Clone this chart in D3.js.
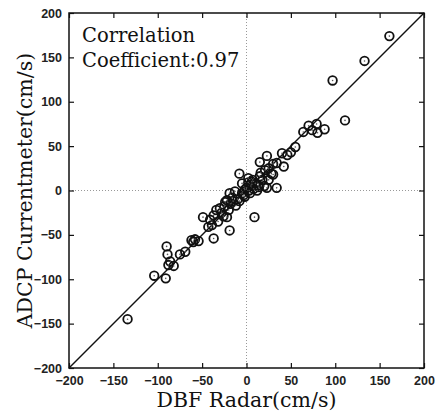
<!DOCTYPE html>
<html>
<head>
<meta charset="utf-8">
<script src="https://cdn.jsdelivr.net/npm/d3@7"></script>
<style>
  body { margin: 0; background: #fff; }
  .tick text { font-family: "Liberation Sans", Arial, sans-serif; }
</style>
</head>
<body>
<div id="chart"></div>
<script>
// data (cm/s)
var radar = [161, 133, 97, 111, 64, 70, 79, 80, 88, 74, 55, 50, 40, 46, 42, 34, 23, 15, 30, 21,
             28, 15, 25, 34, 23, 13, 6, 2, -8, -2, -19, -13, -22, 9, -19, -37, -49, -41, -43, -37,
             -34, -39, -62, -58, -54, -60, -69, -75, -82, -88, -86, -89, -90, -91, -104, -134,
             5, 8, 3, 0, 10, 12, -5, -3, -10, -15, -18, -25, -28, -30, -26, -20, -12, -8,
             18, 20, 16, 25, -22, -32, -5, 4, 30, 7, 2, 6, -2, 14, -16, -24];
var adcp  = [174, 146, 124, 79, 66, 73, 75, 65, 69, 68, 49, 43, 42, 40, 27, 31, 39, 32, 30, 23,
             19, 16, 12, 3, 3, 6, 10, 14, 19, -7, -3, -1, -11, -30, -45, -54, -30, -33, -41, -28,
             -22, -39, -56, -55, -57, -58, -69, -72, -85, -84, -80, -72, -63, -99, -96, -145,
             5, 2, 0, 3, 8, 0, -3, -5, -10, -12, -15, -18, -25, -20, -29, -22, -17, -12,
             12, 5, 20, 25, -30, -35, 8, -3, 18, 12, 9, 7, 1, 4, -8, -13];
var axisTicks = [-200, -150, -100, -50, 0, 50, 100, 150, 200];
var fitLine = [-200, 200];

var points = radar.map(function(d, i) { return {x: d, y: adcp[i]}; });

var margin = {top: 13, right: 11, bottom: 46, left: 69},
    width = 355,
    height = 355;

var svg = d3.select("#chart")
  .append("svg")
    .attr("width", 435)
    .attr("height", 414)
  .append("g")
    .attr("transform", `translate(${margin.left},${margin.top})`);

var x = d3.scaleLinear().domain([-200, 200]).range([0, width]);
var y = d3.scaleLinear().domain([-200, 200]).range([height, 0]);

// dotted zero lines
svg.append("line")
  .attr("x1", x(0)).attr("x2", x(0))
  .attr("y1", 0).attr("y2", height)
  .attr("stroke", "#999").attr("stroke-width", 1)
  .attr("stroke-dasharray", "1,2");
svg.append("line")
  .attr("x1", 0).attr("x2", width)
  .attr("y1", y(0)).attr("y2", y(0))
  .attr("stroke", "#999").attr("stroke-width", 1)
  .attr("stroke-dasharray", "1,2");

// axes with inward ticks
function styleAxis(g) {
  g.select(".domain").remove();
  g.selectAll(".tick line").attr("stroke", "#111").attr("stroke-width", 1.2);
  g.selectAll(".tick text").attr("font-size", 12.5).attr("font-weight", "bold").attr("fill", "#222");
}

svg.append("g")
  .attr("transform", `translate(0,${height})`)
  .call(d3.axisBottom(x).tickValues(axisTicks).tickSizeInner(-5).tickSizeOuter(0).tickPadding(8))
  .call(styleAxis);

svg.append("g")
  .call(d3.axisLeft(y).tickValues(axisTicks).tickSizeInner(-5).tickSizeOuter(0).tickPadding(7))
  .call(styleAxis);

svg.append("g")
  .call(d3.axisTop(x).tickValues(axisTicks).tickSizeInner(-5).tickSizeOuter(0).tickFormat(""))
  .call(styleAxis);

svg.append("g")
  .attr("transform", `translate(${width},0)`)
  .call(d3.axisRight(y).tickValues(axisTicks).tickSizeInner(-5).tickSizeOuter(0).tickFormat(""))
  .call(styleAxis);

// frame
svg.append("rect")
  .attr("width", width).attr("height", height)
  .attr("fill", "none").attr("stroke", "#111").attr("stroke-width", 1.5);

// y = x line
svg.append("line")
  .attr("x1", x(fitLine[0])).attr("y1", y(fitLine[0]))
  .attr("x2", x(fitLine[1])).attr("y2", y(fitLine[1]))
  .attr("stroke", "#111").attr("stroke-width", 1.5);

// points: open circle with a small centre dot
svg.selectAll(".pt")
  .data(points)
  .join("circle")
    .attr("class", "pt")
    .attr("cx", d => x(d.x))
    .attr("cy", d => y(d.y))
    .attr("r", 4.3)
    .attr("fill", "none")
    .attr("stroke", "#111")
    .attr("stroke-width", 1.8);

svg.selectAll(".dot")
  .data(points)
  .join("circle")
    .attr("class", "dot")
    .attr("cx", d => x(d.x))
    .attr("cy", d => y(d.y))
    .attr("r", 0.8)
    .attr("fill", "#555");

// annotation
var serif = "'DejaVu Serif', 'Liberation Serif', serif";
svg.append("text")
  .attr("x", 13).attr("y", 29)
  .attr("font-family", serif).attr("font-size", 19.5).attr("fill", "#111")
  .text("Correlation");
svg.append("text")
  .attr("x", 13).attr("y", 54)
  .attr("font-family", serif).attr("font-size", 19.5).attr("fill", "#111")
  .text("Coefficient:0.97");

// axis titles
svg.append("text")
  .attr("x", width / 2).attr("y", height + 39)
  .attr("text-anchor", "middle")
  .attr("font-family", serif).attr("font-size", 20.5).attr("fill", "#111")
  .text("DBF Radar(cm/s)");

svg.append("text")
  .attr("transform", `translate(-37,${height / 2}) rotate(-90)`)
  .attr("text-anchor", "middle")
  .attr("font-family", serif).attr("font-size", 20.5).attr("fill", "#111")
  .text("ADCP Currentmeter(cm/s)");
</script>
</body>
</html>
